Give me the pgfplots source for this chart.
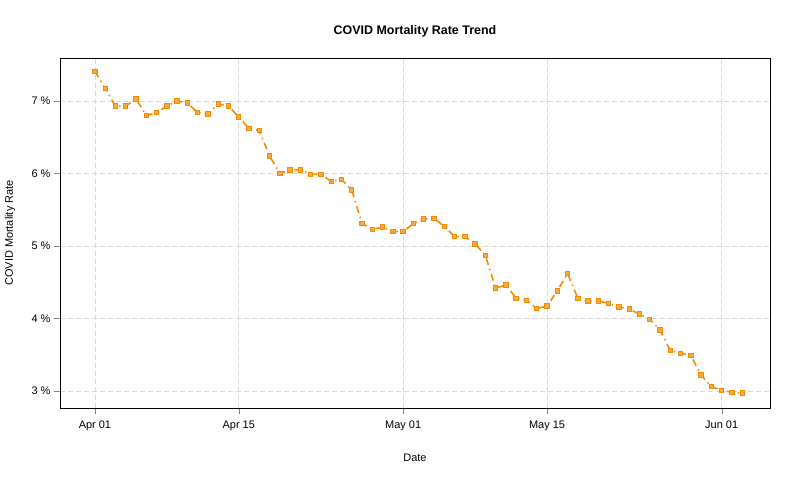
\documentclass[border=0pt]{standalone}
\usepackage{pgfplots}
\pgfplotsset{compat=1.18}
\usepackage{fontspec}
\setmainfont{Liberation Sans}
\definecolor{ora}{HTML}{F28C00}
\begin{document}
\begin{tikzpicture}[x=1bp,y=1bp]
\begin{axis}[
  scale only axis, width=710bp, height=350bp,
  xmin=-3.4, xmax=65.7, ymin=2.766, ymax=7.593,
  xtick={0,14,30,44,61}, xticklabels={Apr 01,Apr 15,May 01,May 15,Jun 01},
  ytick={3,4,5,6,7}, yticklabels={3 \%,4 \%,5 \%,6 \%,7 \%},
  tick label style={font=\fontsize{11}{13}\selectfont}, tick align=outside,
  major tick length=6bp,
  xticklabel style={yshift=-3bp},
  xtick pos=bottom, ytick pos=left,
  grid=major, grid style={dash pattern=on 5bp off 3bp, gray!30, line width=0.8bp},
  axis line style={black}, clip=false,
  /pgf/number format/assume math mode=true,
]
\path[use as bounding box] (rel axis cs:-0.0845,-0.2057) rectangle (rel axis cs:1.0423,1.1657);
\node[font=\bfseries\fontsize{12.5}{14}\selectfont] at (rel axis cs:0.5,1.077) {COVID Mortality Rate Trend};
\node[font=\fontsize{11}{13}\selectfont] at (rel axis cs:0.5,-0.143) {Date};
\node[font=\fontsize{11}{13}\selectfont,rotate=90] at (rel axis cs:-0.0704,0.5) {COVID Mortality Rate};
\addplot[ora, line width=1.6bp, dash pattern=on 7bp off 4bp on 1.5bp off 4bp, mark=square*, mark size=2.2bp, mark options={solid,fill=ora!75,draw=ora,line width=1bp}] coordinates {
(0,7.41)(1,7.17)(2,6.93)(3,6.93)(4,7.03)(5,6.80)(6,6.84)(7,6.93)(8,7.00)(9,6.97)
(10,6.84)(11,6.82)(12,6.96)(13,6.93)(14,6.78)(15,6.62)(16,6.59)(17,6.24)(18,6.00)(19,6.05)
(20,6.05)(21,5.99)(22,5.99)(23,5.89)(24,5.92)(25,5.77)(26,5.31)(27,5.23)(28,5.26)(29,5.20)
(30,5.20)(31,5.31)(32,5.37)(33,5.38)(34,5.27)(35,5.13)(36,5.13)(37,5.03)(38,4.87)(39,4.42)
(40,4.46)(41,4.28)(42,4.25)(43,4.14)(44,4.17)(45,4.38)(46,4.62)(47,4.28)(48,4.24)(49,4.24)
(50,4.21)(51,4.16)(52,4.13)(53,4.06)(54,3.99)(55,3.84)(56,3.56)(57,3.52)(58,3.49)(59,3.22)
(60,3.06)(61,3.01)(62,2.98)(63,2.97)};
\end{axis}
\end{tikzpicture}
\end{document}
